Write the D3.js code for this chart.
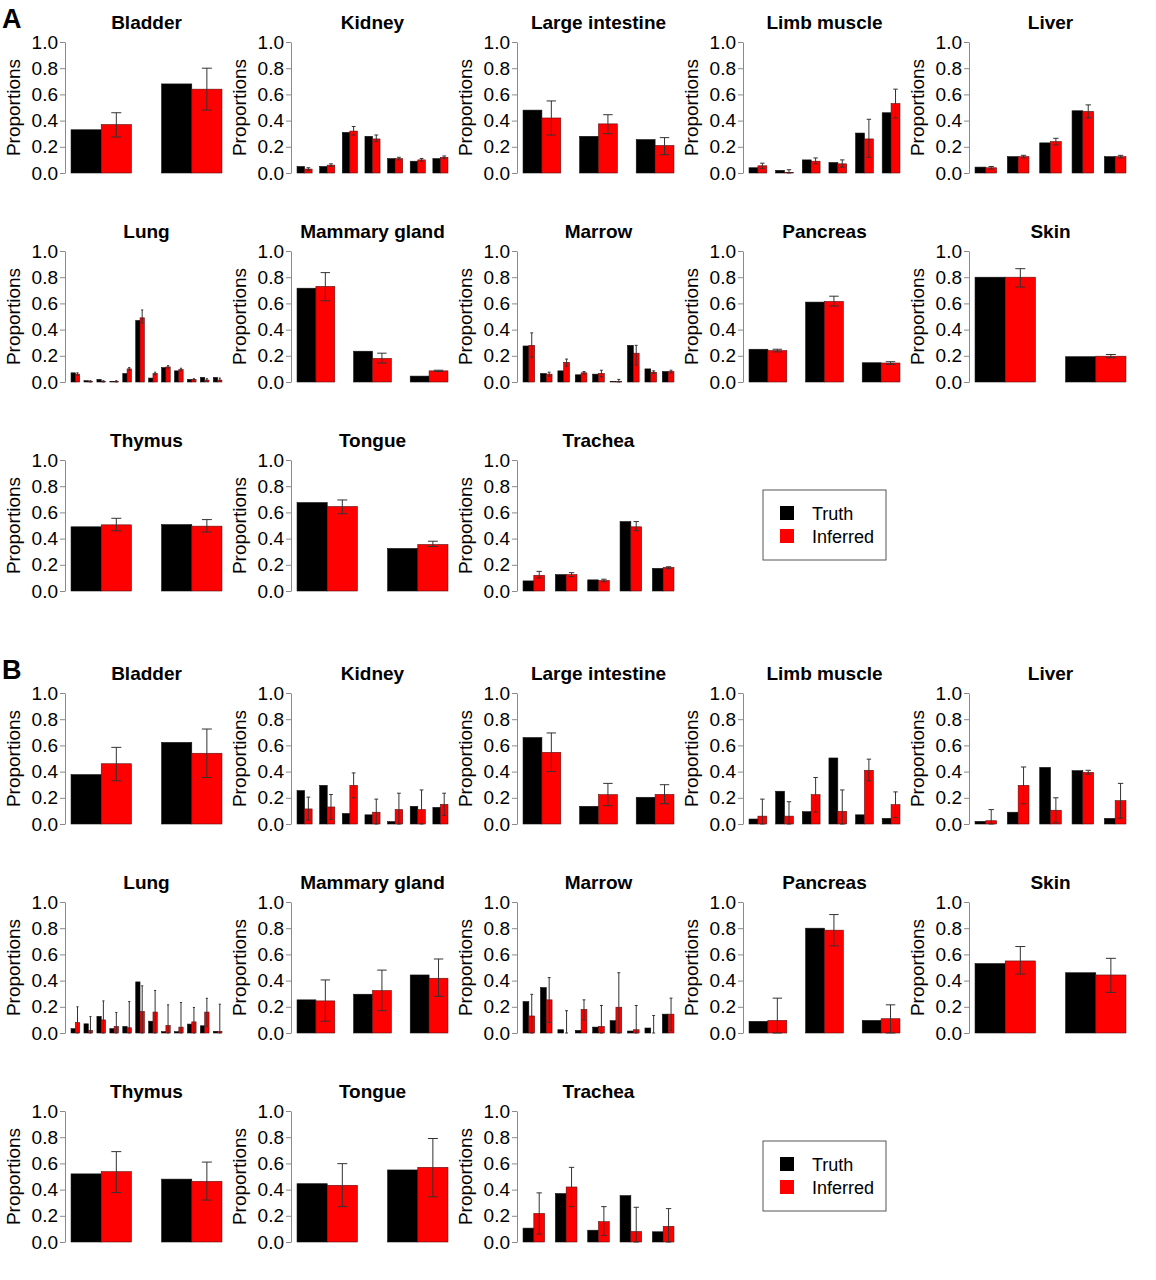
<!DOCTYPE html>
<html>
<head>
<meta charset="utf-8">
<script src="https://cdn.jsdelivr.net/npm/d3@7"></script>
<style>
  body { margin: 0; background: #fff; }
  svg { display: block; font-family: "Liberation Sans", Arial, Helvetica, sans-serif; }
</style>
</head>
<body>
<svg id="chart"></svg>
<script>
// tissue names, in the order of the small multiples
const tissues = ["Bladder", "Kidney", "Large intestine", "Limb muscle", "Liver",
  "Lung", "Mammary gland", "Marrow", "Pancreas", "Skin",
  "Thymus", "Tongue", "Trachea"];
const seriesNames = ["Truth", "Inferred"];
const seriesColors = ["#000000", "#ff0000"];
const tickValues = [0, 0.2, 0.4, 0.6, 0.8, 1.0];

// panel A
const truthA = [
  [0.33, 0.68],
  [0.05, 0.05, 0.31, 0.28, 0.11, 0.09, 0.11],
  [0.48, 0.28, 0.255],
  [0.04, 0.02, 0.10, 0.08, 0.305, 0.46],
  [0.045, 0.125, 0.23, 0.475, 0.125],
  [0.07, 0.01, 0.02, 0.005, 0.065, 0.47, 0.03, 0.11, 0.085, 0.02, 0.035, 0.035],
  [0.716, 0.235, 0.045],
  [0.275, 0.065, 0.085, 0.055, 0.06, 0.003, 0.28, 0.10, 0.08],
  [0.25, 0.61, 0.147],
  [0.80, 0.193],
  [0.49, 0.507],
  [0.675, 0.325],
  [0.077, 0.125, 0.085, 0.53, 0.173]
];
const inferredA = [
  [0.37, 0.64],
  [0.03, 0.06, 0.32, 0.26, 0.11, 0.10, 0.12],
  [0.42, 0.375, 0.21],
  [0.055, 0.005, 0.09, 0.07, 0.26, 0.53],
  [0.04, 0.125, 0.24, 0.47, 0.125],
  [0.06, 0.005, 0.005, 0.005, 0.10, 0.49, 0.065, 0.115, 0.095, 0.02, 0.015, 0.015],
  [0.73, 0.18, 0.085],
  [0.28, 0.06, 0.15, 0.07, 0.065, 0.003, 0.22, 0.075, 0.08],
  [0.24, 0.615, 0.145],
  [0.80, 0.197],
  [0.505, 0.495],
  [0.645, 0.355],
  [0.12, 0.125, 0.08, 0.49, 0.18]
];
const lowA = [
  [0.275, 0.48],
  [0.02, 0.05, 0.29, 0.24, 0.10, 0.09, 0.11],
  [0.29, 0.30, 0.14],
  [0.035, 0, 0.07, 0.045, 0.12, 0.42],
  [0.03, 0.115, 0.215, 0.42, 0.115],
  [0.05, 0, 0, 0, 0.09, 0.45, 0.055, 0.105, 0.085, 0.015, 0.005, 0.005],
  [0.62, 0.145, 0.08],
  [0.19, 0.045, 0.12, 0.06, 0.04, 0, 0.13, 0.065, 0.07],
  [0.23, 0.58, 0.135],
  [0.725, 0.185],
  [0.46, 0.45],
  [0.59, 0.34],
  [0.10, 0.11, 0.07, 0.46, 0.17]
];
const highA = [
  [0.46, 0.80],
  [0.04, 0.07, 0.355, 0.29, 0.12, 0.11, 0.13],
  [0.55, 0.445, 0.27],
  [0.075, 0.025, 0.115, 0.10, 0.41, 0.64],
  [0.05, 0.135, 0.265, 0.52, 0.135],
  [0.07, 0.01, 0.01, 0.01, 0.11, 0.55, 0.075, 0.125, 0.105, 0.025, 0.025, 0.03],
  [0.835, 0.22, 0.09],
  [0.375, 0.075, 0.175, 0.08, 0.09, 0.02, 0.28, 0.085, 0.09],
  [0.25, 0.655, 0.155],
  [0.865, 0.21],
  [0.555, 0.545],
  [0.695, 0.38],
  [0.15, 0.14, 0.09, 0.53, 0.185]
];

// panel B
const truthB = [
  [0.377, 0.623],
  [0.255, 0.295, 0.08, 0.07, 0.018, 0.135, 0.127],
  [0.66, 0.135, 0.204],
  [0.038, 0.25, 0.094, 0.504, 0.07, 0.043],
  [0.02, 0.09, 0.432, 0.407, 0.043],
  [0.033, 0.07, 0.127, 0.033, 0.05, 0.39, 0.09, 0.01, 0.01, 0.068, 0.055, 0.013],
  [0.253, 0.296, 0.443],
  [0.24, 0.347, 0.025, 0.02, 0.045, 0.094, 0.015, 0.038, 0.144],
  [0.089, 0.80, 0.096],
  [0.53, 0.46],
  [0.52, 0.48],
  [0.445, 0.55],
  [0.106, 0.37, 0.09, 0.354, 0.078]
];
const inferredB = [
  [0.46, 0.54],
  [0.115, 0.13, 0.295, 0.09, 0.11, 0.11, 0.15],
  [0.547, 0.224, 0.226],
  [0.06, 0.06, 0.224, 0.097, 0.41, 0.148],
  [0.025, 0.295, 0.105, 0.394, 0.178],
  [0.08, 0.02, 0.10, 0.05, 0.04, 0.165, 0.16, 0.058, 0.045, 0.085, 0.16, 0.013],
  [0.245, 0.324, 0.418],
  [0.13, 0.253, 0.0, 0.18, 0.05, 0.197, 0.025, 0.0, 0.144],
  [0.096, 0.785, 0.109],
  [0.55, 0.443],
  [0.537, 0.463],
  [0.433, 0.57],
  [0.218, 0.42, 0.155, 0.08, 0.12]
];
const lowB = [
  [0.33, 0.355],
  [0.03, 0.035, 0.20, 0, 0, 0, 0.065],
  [0.40, 0.14, 0.155],
  [0, 0, 0.09, 0, 0.33, 0.05],
  [0, 0.155, 0.01, 0.38, 0.045],
  [0, 0, 0, 0, 0, 0, 0, 0, 0, 0, 0.05, 0],
  [0.09, 0.17, 0.28],
  [0, 0.08, 0, 0.10, 0, 0, 0, 0, 0.02],
  [0, 0.665, 0],
  [0.45, 0.31],
  [0.377, 0.32],
  [0.27, 0.345],
  [0.06, 0.27, 0.05, 0, 0]
];
const highB = [
  [0.585, 0.725],
  [0.205, 0.225, 0.39, 0.19, 0.235, 0.26, 0.235],
  [0.695, 0.31, 0.30],
  [0.19, 0.17, 0.355, 0.26, 0.495, 0.245],
  [0.11, 0.435, 0.20, 0.41, 0.31],
  [0.20, 0.125, 0.245, 0.157, 0.24, 0.36, 0.325, 0.215, 0.233, 0.195, 0.265, 0.22],
  [0.405, 0.48, 0.565],
  [0.295, 0.423, 0.17, 0.253, 0.21, 0.46, 0.21, 0.134, 0.266],
  [0.266, 0.904, 0.215],
  [0.66, 0.57],
  [0.69, 0.61],
  [0.598, 0.79],
  [0.375, 0.57, 0.27, 0.265, 0.255]
];

const width = 1156;
const height = 1280;
const colX = [65, 291, 517, 743, 969]; // x of each y axis
const rowTop = [42, 251, 460];       // y of the 1.0 tick, panel A
const panelShift = 651;               // panel B sits this far below A
const plotW = 163;
const plotH = 131;

const svg = d3.select("#chart")
  .attr("width", width)
  .attr("height", height)
  .attr("viewBox", [0, 0, width, height]);

function drawPanel(letter, offY, truth, inferred, low, high) {
  const panel = svg.append("g").attr("transform", `translate(0,${offY})`);

  panel.append("text")
    .attr("x", 2).attr("y", 28)
    .attr("font-size", 27).attr("font-weight", "bold")
    .text(letter);

  tissues.forEach((name, i) => {
    const x0 = colX[i % 5];
    const y0 = rowTop[Math.floor(i / 5)];
    const n = truth[i].length;

    // R style barplot: groups of 2 bars, one bar gap between groups, 4% padding
    const pad = (3 * n - 1) * 0.04;
    const x = d3.scaleLinear().domain([1 - pad, 3 * n + pad]).range([x0, x0 + plotW]);
    const y = d3.scaleLinear().domain([0, 1]).range([y0 + plotH, y0]);

    const g = panel.append("g");

    g.append("text")
      .attr("x", x0 + plotW / 2).attr("y", y0 - 13)
      .attr("text-anchor", "middle")
      .attr("font-size", 19).attr("font-weight", "bold")
      .text(name);

    const axis = g.append("g")
      .attr("transform", `translate(${x0},0)`)
      .call(d3.axisLeft(y).tickValues(tickValues).tickFormat(d3.format(".1f"))
        .tickSize(5).tickSizeOuter(0).tickPadding(2));
    axis.select(".domain").attr("stroke", "#8a8a8a");
    axis.selectAll(".tick line").attr("stroke", "#8a8a8a");
    axis.selectAll(".tick text")
      .attr("fill", "#000").attr("font-size", 19)
      .attr("font-family", "'Liberation Sans', Arial, sans-serif");

    g.append("text")
      .attr("transform", `translate(${x0 - 45},${y0 + plotH / 2}) rotate(-90)`)
      .attr("text-anchor", "middle")
      .attr("font-size", 19)
      .text("Proportions");

    const rows = d3.range(n).map(j => ({
      j, t: truth[i][j], v: inferred[i][j], lo: low[i][j], hi: high[i][j]
    }));

    // truth bars
    g.append("g").selectAll("rect")
      .data(rows).join("rect")
      .attr("x", d => x(1 + 3 * d.j))
      .attr("width", d => x(2 + 3 * d.j) - x(1 + 3 * d.j))
      .attr("y", d => y(d.t))
      .attr("height", d => y(0) - y(d.t))
      .attr("fill", seriesColors[0])
      .attr("stroke", "#111").attr("stroke-width", 0.6);

    // inferred bars
    g.append("g").selectAll("rect")
      .data(rows).join("rect")
      .attr("x", d => x(2 + 3 * d.j))
      .attr("width", d => x(3 + 3 * d.j) - x(2 + 3 * d.j))
      .attr("y", d => y(d.v))
      .attr("height", d => y(0) - y(d.v))
      .attr("fill", seriesColors[1])
      .attr("stroke", "#5a1010").attr("stroke-width", 0.6);

    // error bars on inferred
    const bw = x(2) - x(1);
    const cap = Math.min(5, bw * 0.25);
    const eb = g.append("g").attr("stroke", "#333").attr("stroke-width", 1).attr("fill", "none");
    eb.selectAll("path")
      .data(rows).join("path")
      .attr("d", d => {
        const cx = x(2.5 + 3 * d.j);
        const a = y(d.hi), b = y(d.lo);
        return `M${cx},${a}V${b}M${cx - cap},${a}H${cx + cap}M${cx - cap},${b}H${cx + cap}`;
      });
  });

  // legend
  const lg = panel.append("g").attr("transform", "translate(763,490)");
  lg.append("rect")
    .attr("width", 123).attr("height", 70)
    .attr("fill", "none").attr("stroke", "#555").attr("stroke-width", 1);
  seriesNames.forEach((s, k) => {
    lg.append("rect")
      .attr("x", 17).attr("y", 16 + k * 23)
      .attr("width", 14).attr("height", 14)
      .attr("fill", seriesColors[k]);
    lg.append("text")
      .attr("x", 49).attr("y", 30 + k * 23)
      .attr("font-size", 18)
      .text(s);
  });
}

drawPanel("A", 0, truthA, inferredA, lowA, highA);
drawPanel("B", panelShift, truthB, inferredB, lowB, highB);
</script>
</body>
</html>
